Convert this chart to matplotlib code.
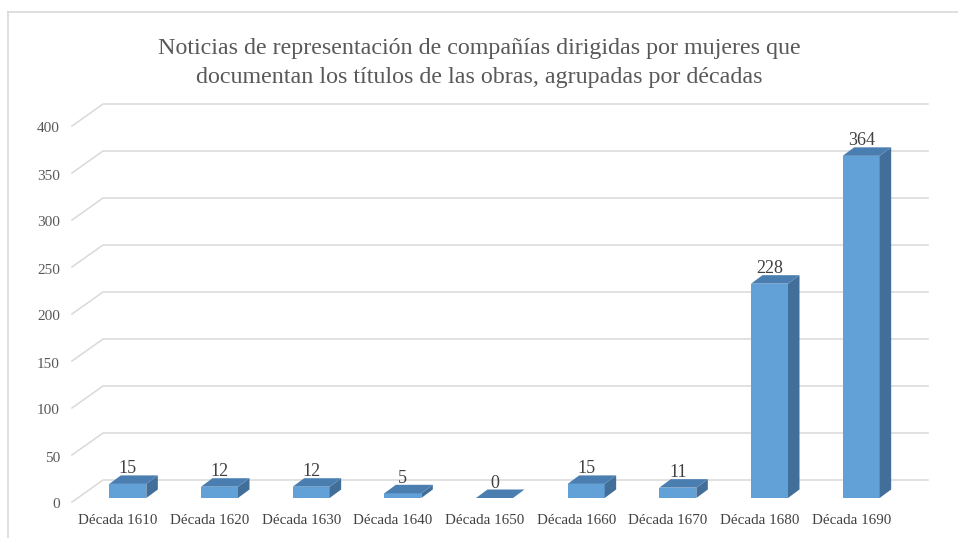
import matplotlib
matplotlib.use("Agg")
import matplotlib.pyplot as plt
from matplotlib.patches import Polygon
from matplotlib.lines import Line2D

categories = ["Década 1610", "Década 1620", "Década 1630", "Década 1640", "Década 1650",
              "Década 1660", "Década 1670", "Década 1680", "Década 1690"]
values = [15, 12, 12, 5, 0, 15, 11, 228, 364]
yticks = [0, 50, 100, 150, 200, 250, 300, 350, 400]
title = ("Noticias de representación de compañías dirigidas por mujeres que\n"
         "documentan los títulos de las obras, agrupadas por décadas")

plt.rcParams['font.family'] = ['Liberation Serif', 'DejaVu Serif']

W, H = 958, 538
fig = plt.figure(figsize=(W / 100, H / 100), dpi=100)
fig.patch.set_facecolor("white")

# front plane of the plot area (pixels): x 72..897, y(from bottom) 36..412
ax = fig.add_axes([72 / W, 36 / H, 825 / W, 376 / H])
ax.set_xlim(-0.5, len(categories) - 0.5)
ax.set_ylim(0, 400)
ax.axis("off")

pxx = 825 / len(categories)      # pixels per category
pxy = 376 / 400                  # pixels per value unit

def X(px):
    return px / pxx

def Y(px):
    return px / pxy

grid_c = "#d9d9d9"
# wall depth (slant)
wdx, wdy = X(31), Y(22)
x_left, x_right = -0.5, len(categories) - 0.5
for v in yticks:
    ax.add_line(Line2D([x_left, x_left + wdx, x_right + wdx], [v, v + wdy, v + wdy],
                       color=grid_c, lw=1.1, clip_on=False, zorder=1))
    ax.annotate(str(v), (x_left, v), xytext=(-12, -3), textcoords="offset pixels",
                ha="right", va="center", fontsize=11, color="#595959",
                annotation_clip=False)

for i, c in enumerate(categories):
    ax.annotate(c, (i, 0), xytext=(0, -19), textcoords="offset pixels",
                ha="center", va="center", fontsize=10.8, color="#404040",
                annotation_clip=False)

front_c = "#62A0D8"
top_c = "#4A7EB0"
side_c = "#426F9A"
bdx, bdy = X(11.5), Y(8.5)
base = Y(4)
for i, v in enumerate(values):
    x0 = i + X(-8.5)
    x1 = i + X(28.5)
    top = base + v
    if v > 0:
        ax.add_patch(Polygon([[x0, base], [x1, base], [x1, top], [x0, top]],
                             closed=True, facecolor=front_c, edgecolor="none",
                             clip_on=False, zorder=3))
        ax.add_patch(Polygon([[x1, base], [x1 + bdx, base + bdy], [x1 + bdx, top + bdy], [x1, top]],
                             closed=True, facecolor=side_c, edgecolor="none",
                             clip_on=False, zorder=3))
    ax.add_patch(Polygon([[x0, top], [x1, top], [x1 + bdx, top + bdy], [x0 + bdx, top + bdy]],
                         closed=True, facecolor=top_c, edgecolor="none",
                         clip_on=False, zorder=3))
    ax.annotate(str(v), ((x0 + x1) / 2, top + bdy), xytext=(0, 2), textcoords="offset pixels",
                ha="center", va="baseline", fontsize=13, color="#404040",
                annotation_clip=False, zorder=4)

fig.text(0.5, 1 - 63 / H, title, ha="center", va="center", fontsize=17.3,
         color="#595959", linespacing=1.45)

# chart frame
fig.add_artist(Line2D([8 / W, 8 / W], [0, 1 - 12 / H], color=grid_c, lw=1.2,
                      transform=fig.transFigure))
fig.add_artist(Line2D([8 / W, 1], [1 - 12 / H, 1 - 12 / H], color=grid_c, lw=1.2,
                      transform=fig.transFigure))

fig.savefig("out.png", dpi=100)
